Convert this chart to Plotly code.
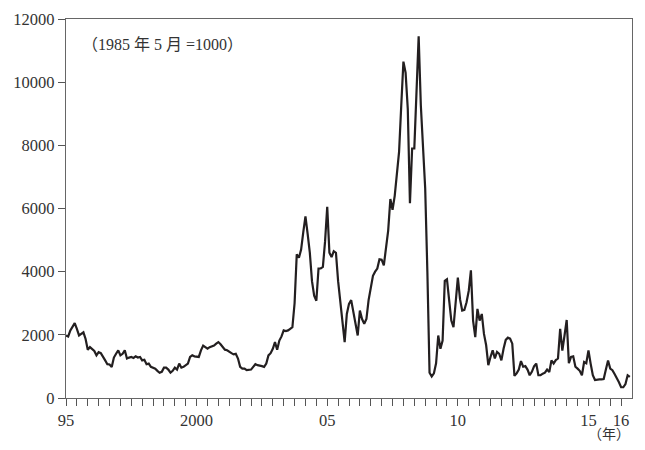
import plotly.graph_objects as go

# Monthly index values, Jan 1995 = month 0
bdi = [
    1980, 1950, 2140, 2250, 2370, 2190, 1980, 2030, 2080, 1870,
    1530, 1610, 1560, 1490, 1350, 1450, 1420, 1280, 1190, 1070,
    1060, 985, 1280, 1400, 1510, 1350, 1400, 1510, 1250, 1280,
    1300, 1270, 1320, 1280, 1300, 1190, 1210, 1070, 1090, 985,
    960, 930, 860, 800, 830, 960, 960, 900, 800, 860,
    960, 900, 1090, 960, 985, 1040, 1090, 1300, 1350, 1320,
    1320, 1300, 1510, 1660, 1610, 1560, 1610, 1630, 1660, 1720,
    1770, 1700, 1610, 1530, 1510, 1450, 1420, 1380, 1400, 1250,
    985, 930, 930, 880, 880, 900, 985, 1070, 1040, 1030,
    1010, 985, 1090, 1350, 1420, 1560, 1770, 1530, 1820, 1950,
    2140, 2120, 2140, 2190, 2240, 3000, 4550, 4440, 4700, 5250,
    5750, 5200, 4600, 3700, 3240, 3080, 4100, 4100, 4150, 4950,
    6050, 4600, 4460, 4650, 4600, 3700, 3000, 2400, 1770, 2660,
    2980, 3100, 2700, 2300, 1980, 2770, 2500, 2350, 2500, 3100,
    3500, 3870, 4000, 4100, 4390, 4380, 4200, 4700, 5300, 6300,
    5960, 6400, 7000, 7790, 9260, 10650, 10300, 9150, 6170, 7900,
    7900, 9600, 11450, 9260, 8000, 6640, 4000, 800, 680, 780,
    1100, 1980, 1560, 1820, 3710, 3760, 3100, 2450, 2240, 3000,
    3810, 3130, 2770, 2790, 3030, 3390, 4040, 2450, 1930, 2820,
    2450, 2660, 2030, 1670, 1040, 1300, 1510, 1250, 1460, 1400,
    1190, 1560, 1840, 1910, 1880, 1720, 700, 780, 900, 1170,
    990, 1010, 900, 720, 830, 1000, 1090, 720, 720, 770,
    800, 900, 820, 1190, 1090, 1200, 1250, 2190, 1500, 1980,
    2470, 1100, 1300, 1320, 990, 930, 860, 720, 1140, 1100,
    1510, 1090, 720, 570, 590, 590, 590, 600, 900, 1190,
    930, 880, 760, 650, 500, 340, 340, 440, 720, 670,
]
months = list(range(len(bdi)))

tick_positions = list(range(0, 256, 5))
label_positions = {0: "95", 60: "2000", 120: "05", 180: "10", 240: "15", 255: "16"}
tick_text = [label_positions.get(t, "") for t in tick_positions]

y_ticks = [0, 2000, 4000, 6000, 8000, 10000, 12000]

font_main = "'Liberation Serif', 'Times New Roman', 'DejaVu Serif', 'Noto Sans CJK JP', serif"

# page body has an 8px margin: figure sits at (8, 8) in the window
W, H = 627, 434
L, T, R, B = 58, 8, 2, 44

fig = go.Figure()
fig.add_trace(go.Scatter(
    x=months, y=bdi, mode="lines",
    line=dict(color="#231f20", width=2.2),
    hoverinfo="skip", showlegend=False,
))

pw = W - L - R
ph = H - T - B

fig.update_layout(
    width=W, height=H,
    margin=dict(l=L, r=R, t=T, b=B, pad=0),
    paper_bgcolor="white", plot_bgcolor="white",
    font=dict(family=font_main, size=16, color="#333333"),
    xaxis=dict(
        range=[0, 260], tickmode="array", tickvals=tick_positions, ticktext=tick_text,
        ticks="outside", ticklen=7, tickwidth=1, tickcolor="#555555",
        showline=True, linecolor="#666666", linewidth=1.2, mirror=True,
        showgrid=False, zeroline=False, ticklabeloverflow="allow",
        tickfont=dict(family=font_main, size=16.5),
    ),
    yaxis=dict(
        range=[0, 12000], tickmode="array", tickvals=y_ticks,
        ticktext=[str(v) for v in y_ticks],
        ticks="outside", ticklen=7, tickwidth=1, tickcolor="#555555",
        showline=True, linecolor="#666666", linewidth=1.2, mirror=True,
        showgrid=False, zeroline=False, ticklabeloverflow="allow",
        tickfont=dict(family=font_main, size=16.5),
    ),
    annotations=[
        dict(text="（1985 年 5 月 =1000）", xref="paper", yref="paper",
             x=(80 - 66) / pw, y=(398 - 42) / ph, xanchor="left", yanchor="middle",
             showarrow=False, font=dict(family=font_main, size=16, color="#333333")),
        dict(text="（年）", xref="paper", yref="paper",
             x=1.0, y=-(435 - 398) / ph, xanchor="right", yanchor="middle",
             showarrow=False, font=dict(family=font_main, size=14, color="#333333")),
    ],
)

fig.write_html("out.html")
